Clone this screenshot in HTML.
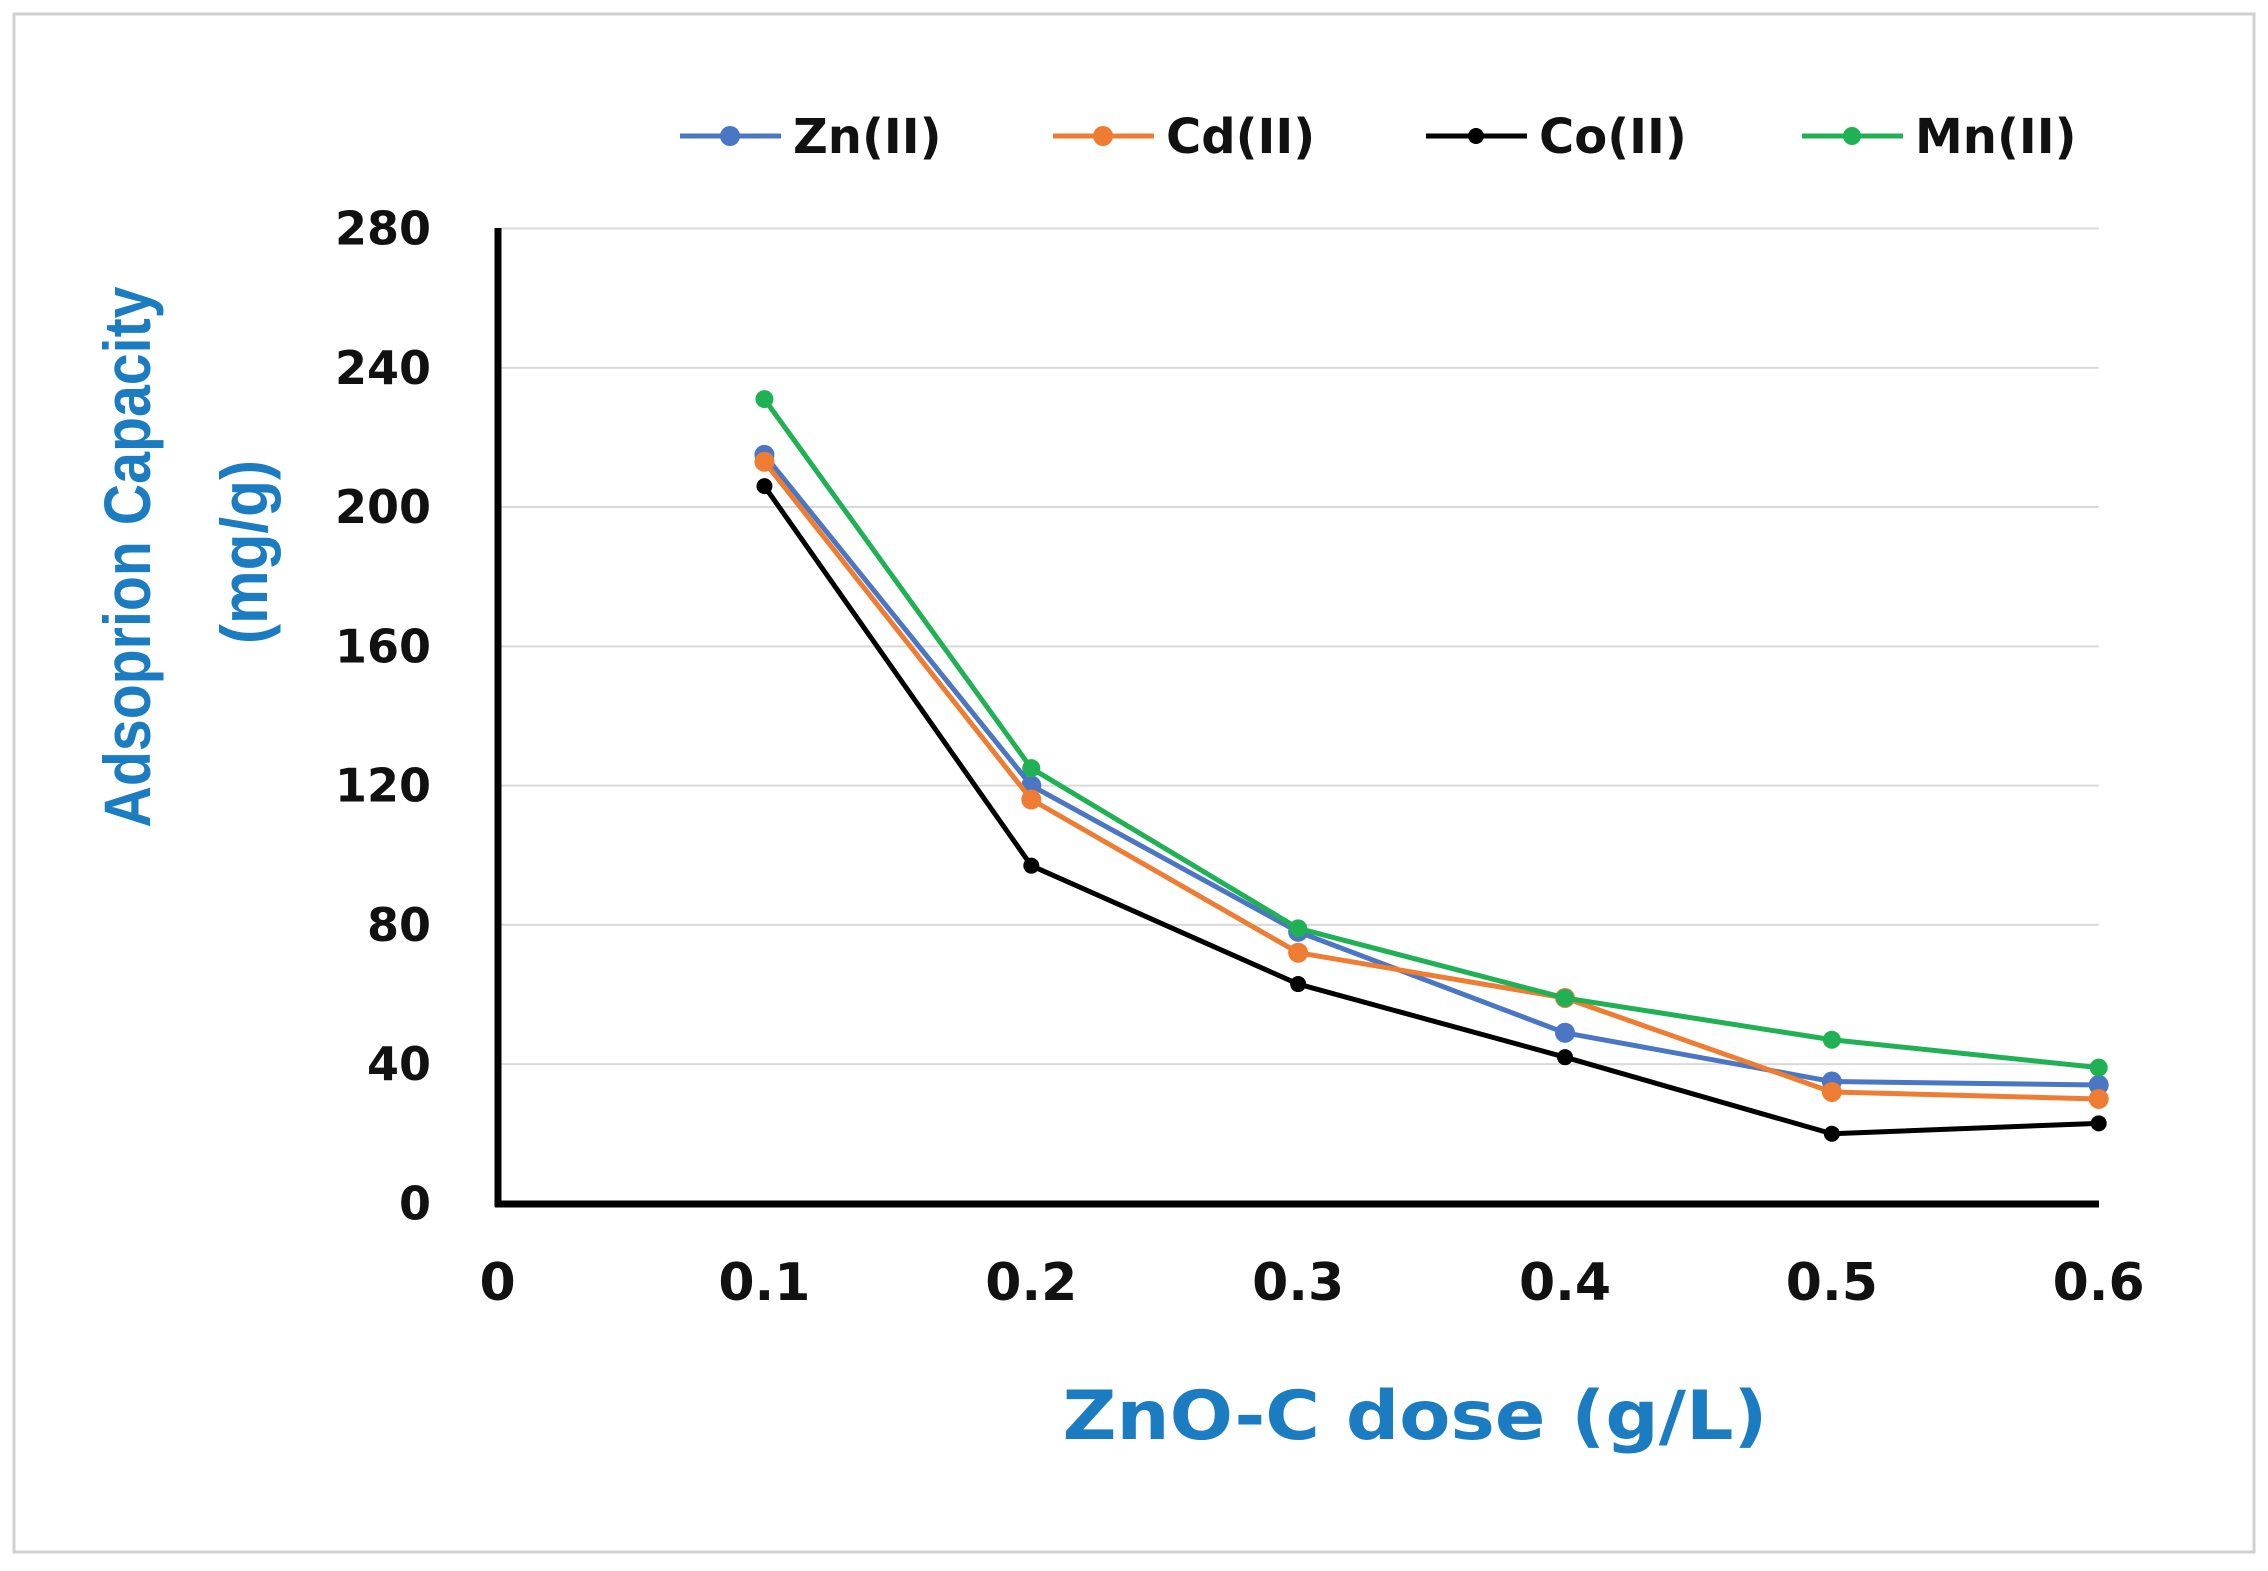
<!DOCTYPE html>
<html><head><meta charset="utf-8"><style>
html,body{margin:0;padding:0;background:#fff;}
svg{display:block;}
</style></head><body>
<svg id="chart" width="2268" height="1571" viewBox="0 0 2268 1571" xmlns="http://www.w3.org/2000/svg">
<rect x="14" y="14" width="2240" height="1538" fill="#fff" stroke="#d0d0d0" stroke-width="3"/>
<g id="grid"></g>
<g id="yticks"></g>
<g id="xticks"></g>
<line x1="498" y1="228" x2="498" y2="1207" stroke="#000" stroke-width="7"/>
<line x1="495" y1="1204" x2="2099" y2="1204" stroke="#000" stroke-width="7"/>
<g id="series"></g>
<g id="legend"></g>
<text x="127" y="557" transform="rotate(-90 127 557)" text-anchor="middle" dominant-baseline="central" font-family="'Liberation Sans',sans-serif" font-weight="bold" font-size="66" fill="#1b7cc2" textLength="541" lengthAdjust="spacingAndGlyphs">Adsoprion Capacity</text>
<text x="244" y="552" transform="rotate(-90 244 552)" text-anchor="middle" dominant-baseline="central" font-family="'Liberation Sans',sans-serif" font-weight="bold" font-size="66" fill="#1b7cc2" textLength="184" lengthAdjust="spacingAndGlyphs">(mg/g)</text>
<text x="1415" y="1439" text-anchor="middle" font-family="'DejaVu Sans',sans-serif" font-weight="bold" font-size="68" fill="#1b7cc2" textLength="705" lengthAdjust="spacingAndGlyphs">ZnO-C dose (g/L)</text>
</svg>
<script>
const xValues = [0.1, 0.2, 0.3, 0.4, 0.5, 0.6];
const znValues = [215, 120, 78, 49, 35, 34];
const cdValues = [213, 116, 72, 59, 32, 30];
const coValues = [206, 97, 63, 42, 20, 23];
const mnValues = [231, 125, 79, 59, 47, 39];
const yTicks = [0, 40, 80, 120, 160, 200, 240, 280];
const xTicks = [0, 0.1, 0.2, 0.3, 0.4, 0.5, 0.6];
const xTickLabels = ["0", "0.1", "0.2", "0.3", "0.4", "0.5", "0.6"];
const seriesNames = ["Zn(II)", "Cd(II)", "Co(II)", "Mn(II)"];

const NS = "http://www.w3.org/2000/svg";
const X0 = 497.6, X1 = 2098.7, Y0 = 1203.4, Y1 = 228.5;
function xs(v){ return X0 + (v - 0) / 0.6 * (X1 - X0); }
function ys(v){ return Y0 - v / 280 * (Y0 - Y1); }
function mk(tag, attrs, parent){ const e = document.createElementNS(NS, tag); for (const k in attrs) e.setAttribute(k, attrs[k]); parent.appendChild(e); return e; }

const grid = document.getElementById('grid');
const yt = document.getElementById('yticks');
yTicks.forEach(function(t){
  if (t > 0) {
    const g = mk('line', {x1: X0, x2: X1, y1: ys(t), y2: ys(t), stroke: '#d9d9d9', 'stroke-width': 2}, grid);
    
    
  }
  const tx = mk('text', {x: 431, y: ys(t), 'text-anchor': 'end', 'dominant-baseline': 'central', 'font-family': "'DejaVu Sans',sans-serif", 'font-weight': 'bold', 'font-size': 46, fill: '#111'}, yt);
  tx.textContent = String(t);
  
  
});
const xt = document.getElementById('xticks');
xTicks.forEach(function(t, i){
  const tx = mk('text', {x: xs(t), y: 1283, 'text-anchor': 'middle', 'dominant-baseline': 'central', 'font-family': "'DejaVu Sans',sans-serif", 'font-weight': 'bold', 'font-size': 52, fill: '#111'}, xt);
  tx.textContent = xTickLabels[i];
  
  
});

const seriesData = [znValues, cdValues, coValues, mnValues];
const colors = ['#4a76c4', '#ee7d33', '#000000', '#1fb154'];
const radii = [10, 10, 8, 9];
const slugs = ['zn', 'cd', 'co', 'mn'];
const sg = document.getElementById('series');
seriesData.forEach(function(vals, si){
  const g = mk('g', {}, sg);
  
  
  const pts = vals.map(function(v, i){ return xs(xValues[i]) + ',' + ys(v); }).join(' ');
  const pl = mk('polyline', {points: pts, fill: 'none', stroke: colors[si], 'stroke-width': 5, 'stroke-linejoin': 'round'}, g);
  
  
  vals.forEach(function(v, i){
    const c = mk('circle', {cx: xs(xValues[i]), cy: ys(v), r: radii[si], fill: colors[si]}, g);
    
    
  });
});

const lg = document.getElementById('legend');
const legX = [680, 1053, 1426, 1802];
seriesNames.forEach(function(n, i){
  const g = mk('g', {}, lg);
  
  
  mk('line', {x1: legX[i], x2: legX[i] + 101, y1: 136, y2: 136, stroke: colors[i], 'stroke-width': 5}, g);
  mk('circle', {cx: legX[i] + 50, cy: 136, r: radii[i], fill: colors[i]}, g);
  const t = mk('text', {x: legX[i] + 113, y: 153, 'font-family': "'DejaVu Sans',sans-serif", 'font-weight': 'bold', 'font-size': 48, fill: '#111'}, g);
  t.textContent = n;
  
  
});
</script>
</body></html>
